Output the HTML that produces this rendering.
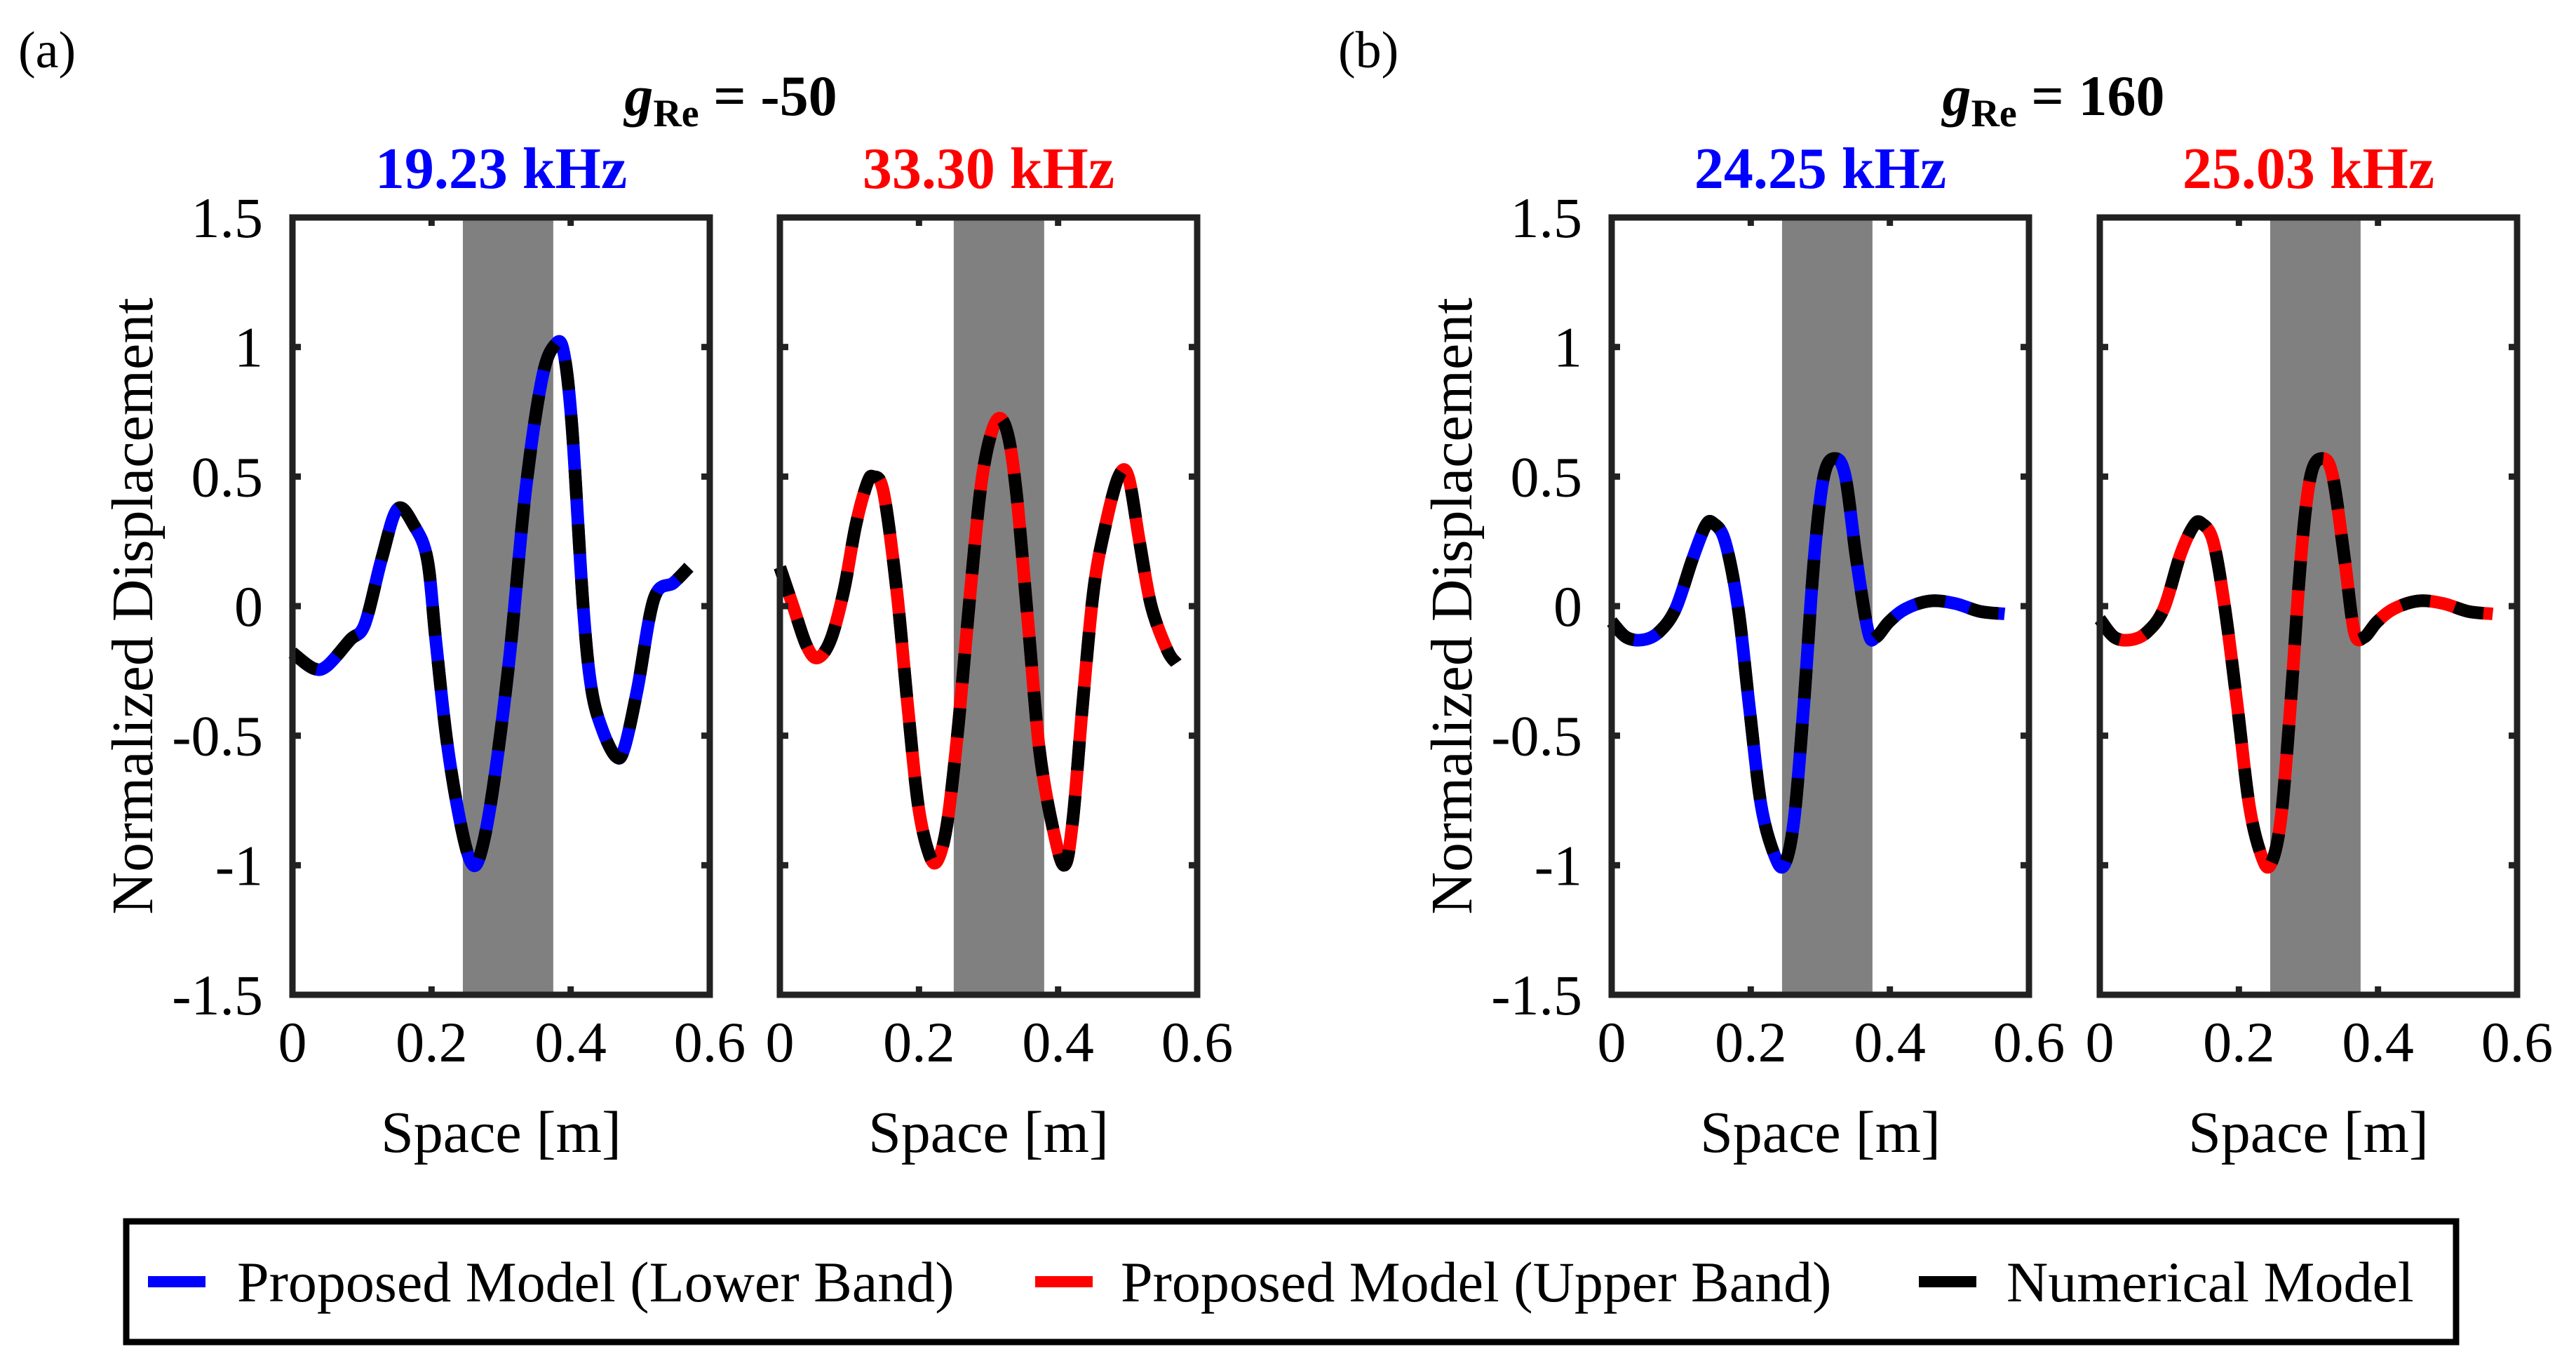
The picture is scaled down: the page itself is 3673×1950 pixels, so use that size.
<!DOCTYPE html>
<html><head><meta charset="utf-8">
<style>
html,body{margin:0;padding:0;background:#fff;}
svg{display:block;}
text{font-family:"Liberation Serif",serif;}
</style></head>
<body>
<svg id="fig" width="3673" height="1950" viewBox="0 0 3673 1950" xmlns="http://www.w3.org/2000/svg">
<text x="26" y="96" font-size="74">(a)</text>
<text x="1908" y="96" font-size="74">(b)</text>
<text x="1042" y="164" font-size="82" font-weight="bold" text-anchor="middle"><tspan font-style="italic">g</tspan><tspan font-size="56" dy="16">Re</tspan><tspan dy="-16"> = -50</tspan></text>
<text x="2928" y="164" font-size="82" font-weight="bold" text-anchor="middle"><tspan font-style="italic">g</tspan><tspan font-size="56" dy="16">Re</tspan><tspan dy="-16"> = 160</tspan></text>
<g id="plots"></g>
<rect x="180" y="1741" width="3322" height="172" fill="#fff" stroke="#000" stroke-width="9"/>
<g><line x1="211" y1="1827" x2="293" y2="1827" stroke="#0000ff" stroke-width="16"/><text x="338" y="1855" font-size="82">Proposed Model (Lower Band)</text></g>
<g><line x1="1476" y1="1827" x2="1558" y2="1827" stroke="#ff0000" stroke-width="16"/><text x="1598" y="1855" font-size="82">Proposed Model (Upper Band)</text></g>
<g><line x1="2736" y1="1827" x2="2818" y2="1827" stroke="#000" stroke-width="16"/><text x="2861" y="1855" font-size="82">Numerical Model</text></g>
</svg>
<script>
const xTicks=[0,0.2,0.4,0.6];
const xTickLabels=["0","0.2","0.4","0.6"];
const yTicks=[1.5,1,0.5,0,-0.5,-1,-1.5];
const yTickLabels=["1.5","1","0.5","0","-0.5","-1","-1.5"];
const freqLabels=["19.23 kHz","33.30 kHz","24.25 kHz","25.03 kHz"];
const bandStart=[0.245,0.25,0.245,0.245];
const bandEnd=[0.375,0.38,0.375,0.375];
const x1=[0,0.03,0.05,0.083,0.104,0.128,0.151,0.175,0.194,0.206,0.222,0.241,0.257,0.27,0.288,0.312,0.335,0.359,0.378,0.39,0.402,0.418,0.43,0.446,0.465,0.477,0.496,0.52,0.548,0.57];
const y1=[-0.18,-0.24,-0.23,-0.13,-0.07,0.18,0.375,0.31,0.18,-0.13,-0.52,-0.83,-0.99,-0.96,-0.71,-0.2,0.44,0.88,1.01,0.98,0.69,0,-0.32,-0.48,-0.58,-0.55,-0.32,0.03,0.09,0.15];
const x2=[0,0.019,0.038,0.054,0.073,0.092,0.109,0.125,0.134,0.149,0.168,0.184,0.199,0.215,0.227,0.241,0.257,0.274,0.291,0.31,0.326,0.34,0.357,0.373,0.392,0.409,0.421,0.435,0.451,0.468,0.487,0.501,0.517,0.534,0.557,0.57];
const y2=[0.15,0,-0.15,-0.2,-0.13,0.06,0.31,0.47,0.5,0.44,0.06,-0.39,-0.77,-0.96,-0.98,-0.83,-0.45,0.06,0.5,0.71,0.68,0.44,-0.07,-0.55,-0.85,-1.0,-0.83,-0.39,0.06,0.31,0.5,0.5,0.25,0,-0.17,-0.22];
const x3=[0,0.021,0.045,0.068,0.092,0.116,0.135,0.146,0.163,0.182,0.198,0.215,0.234,0.248,0.262,0.276,0.291,0.305,0.321,0.336,0.352,0.369,0.38,0.399,0.423,0.458,0.494,0.529,0.565];
const y3=[-0.06,-0.12,-0.13,-0.1,-0.01,0.18,0.31,0.32,0.25,-0.01,-0.39,-0.77,-0.96,-1.0,-0.83,-0.39,0.18,0.5,0.57,0.5,0.18,-0.1,-0.12,-0.06,-0.01,0.02,0.01,-0.02,-0.03];
const x4=[0,0.021,0.045,0.068,0.092,0.116,0.135,0.146,0.163,0.18,0.198,0.215,0.232,0.245,0.26,0.274,0.289,0.303,0.32,0.335,0.352,0.366,0.38,0.399,0.423,0.458,0.494,0.529,0.565];
const y4=[-0.05,-0.12,-0.13,-0.1,-0.01,0.2,0.31,0.32,0.25,-0.01,-0.39,-0.77,-0.96,-1.0,-0.83,-0.39,0.18,0.5,0.57,0.5,0.18,-0.1,-0.12,-0.06,-0.01,0.02,0.01,-0.02,-0.03];
const seriesX=[x1,x2,x3,x4];
const seriesY=[y1,y2,y3,y4];
const colors=["#0000ff","#ff0000","#0000ff","#ff0000"];
const panelLeft=[417,1112,2298,2994];
const W=595, TOP=310, BOT=1418;
const NS="http://www.w3.org/2000/svg";
const root=document.getElementById('plots');
function mk(tag,attrs,parent){const e=document.createElementNS(NS,tag);for(const k in attrs)e.setAttribute(k,attrs[k]);(parent||root).appendChild(e);return e;}
function sx(p,v){return panelLeft[p]+v/0.6*W;}
function sy(v){return TOP+(1.5-v)/3*(BOT-TOP);}
function smooth(pts){let d="M"+pts[0][0]+","+pts[0][1];for(let i=0;i<pts.length-1;i++){const p0=pts[Math.max(0,i-1)],p1=pts[i],p2=pts[i+1],p3=pts[Math.min(pts.length-1,i+2)];const c1x=p1[0]+(p2[0]-p0[0])/6,c1y=p1[1]+(p2[1]-p0[1])/6,c2x=p2[0]-(p3[0]-p1[0])/6,c2y=p2[1]-(p3[1]-p1[1])/6;d+=" C"+c1x+","+c1y+" "+c2x+","+c2y+" "+p2[0]+","+p2[1];}return d;}
for(let p=0;p<4;p++){
  const g=mk('g',{});
  
  
  const band=mk('rect',{x:sx(p,bandStart[p]),y:TOP,width:sx(p,bandEnd[p])-sx(p,bandStart[p]),height:BOT-TOP,fill:'#808080'},g);
  
  
  const pts=seriesX[p].map((v,i)=>[sx(p,v),sy(seriesY[p][i])]);
  const d=smooth(pts);
  const l1=mk('path',{d:d,fill:'none',stroke:colors[p],'stroke-width':18,'stroke-linejoin':'round'},g);
  
  
  const l2=mk('path',{d:d,fill:'none',stroke:'#000','stroke-width':18,'stroke-dasharray':'42 36','stroke-linejoin':'round'},g);
  
  
  const ax=mk('rect',{x:panelLeft[p],y:TOP,width:W,height:BOT-TOP,fill:'none',stroke:'#222','stroke-width':9},g);
  
  
  xTicks.forEach((t,i)=>{
    const x=sx(p,t);
    mk('line',{x1:x,y1:BOT,x2:x,y2:BOT-12,stroke:'#222','stroke-width':9},g);
    mk('line',{x1:x,y1:TOP,x2:x,y2:TOP+12,stroke:'#222','stroke-width':9},g);
    const tl=mk('text',{x:x,y:1513,'font-size':82,'text-anchor':'middle'},g);
    tl.textContent=xTickLabels[i];
    
    
  });
  yTicks.forEach((t,i)=>{
    const y=sy(t);
    mk('line',{x1:panelLeft[p],y1:y,x2:panelLeft[p]+12,y2:y,stroke:'#222','stroke-width':9},g);
    mk('line',{x1:panelLeft[p]+W,y1:y,x2:panelLeft[p]+W-12,y2:y,stroke:'#222','stroke-width':9},g);
    if(p%2==0){
      const tl=mk('text',{x:panelLeft[p]-42,y:y+28,'font-size':82,'text-anchor':'end'},g);
      tl.textContent=yTickLabels[i];
      
      
    }
  });
  const xl=mk('text',{x:panelLeft[p]+W/2,y:1642,'font-size':84,'text-anchor':'middle'},g);
  xl.textContent='Space [m]';
  
  
  const ft=mk('text',{x:panelLeft[p]+W/2,y:268,'font-size':84,'font-weight':'bold','text-anchor':'middle',fill:colors[p]},g);
  ft.textContent=freqLabels[p];
  
  
  if(p%2==0){
    const cx=panelLeft[p]-228;
    const yl=mk('text',{x:cx,y:864,'font-size':84,'text-anchor':'middle',transform:'rotate(-90 '+cx+' 864) translate(0 28)'},g);
    yl.textContent='Normalized Displacement';
    
    
  }
}
</script>
</body></html>
